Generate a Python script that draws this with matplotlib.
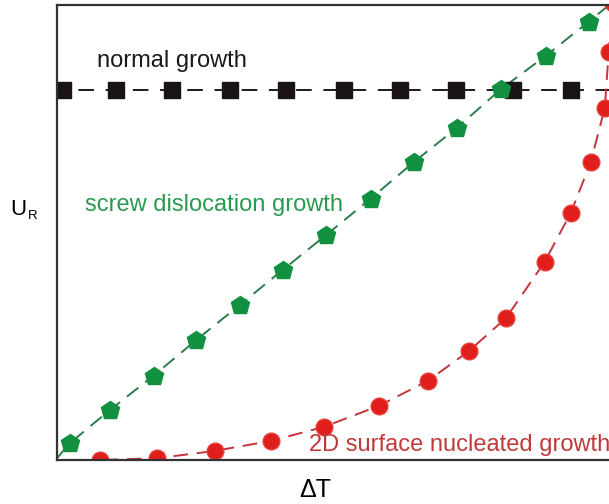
import numpy as np
import matplotlib.pyplot as plt

plt.rcParams['font.family'] = ['Liberation Sans', 'DejaVu Sans']

# normal growth (black squares)
x_normal = [1.1, 10.5, 20.7, 31.0, 41.1, 51.4, 61.4, 71.5, 81.8, 92.1]
y_normal = [81.3, 81.3, 81.3, 81.3, 81.3, 81.3, 81.3, 81.3, 81.3, 81.3]

# screw dislocation growth (green pentagons)
x_screw = [2.3, 9.5, 17.3, 25.0, 32.8, 40.5, 48.3, 56.2, 64.0, 71.7, 79.6, 87.6, 95.3]
y_screw = [3.7, 11.0, 18.5, 26.4, 34.1, 41.8, 49.5, 57.4, 65.5, 73.0, 81.5, 88.8, 96.3]

# 2D surface nucleated growth (red circles)
x_2d = [7.7, 18.0, 28.3, 38.4, 47.9, 57.7, 66.5, 73.9, 80.5, 87.4, 92.1, 95.7, 98.2, 98.9, 99.6]
y_2d = [0.0, 0.4, 2.0, 4.2, 7.3, 11.9, 17.4, 24.0, 31.2, 43.5, 54.3, 65.5, 77.4, 89.7, 100.4]

fig = plt.figure(figsize=(6.09, 5.04), dpi=100)
ax = fig.add_axes([0.0936, 0.0873, 0.916, 0.903])

# dashed lines
ax.plot([0] + x_normal + [100], [81.3] + y_normal + [81.3], color="#1a1a1a", lw=1.4,
        linestyle=(3, (8, 6)))
ax.plot([0] + x_screw + [100], [0.4] + y_screw + [101], color="#2a7d4a", lw=1.4,
        linestyle=(0, (7.5, 4.5)))
ax.plot([0] + x_2d, [0] + y_2d, color="#c4343c", lw=1.4, linestyle=(0, (7.5, 4.5)))

# markers
ax.plot(x_normal, y_normal, "s", ms=11, color="#1a1414", ls="none")
ax.plot(x_screw, y_screw, "p", ms=13.6, color="#119040", ls="none")
ax.plot(x_2d, y_2d, "o", ms=12, color="#e01e1c", mec="#e8403a", ls="none")

ax.text(7.2, 87.6, "normal growth", fontsize=17, color="#1a1a1a", va="center")
ax.text(5.0, 56.0, "screw dislocation growth", fontsize=17, color="#2a9a50", va="center")
ax.text(45.2, 3.3, "2D surface nucleated growth", fontsize=17, color="#c03a3a", va="center")

ax.set_xlim(0, 100)
ax.set_ylim(0, 100)
ax.set_xticks([])
ax.set_yticks([])
ax.spines["right"].set_visible(False)
for s in ["left", "top", "bottom"]:
    ax.spines[s].set_linewidth(1.6)
    ax.spines[s].set_color("#333333")

fig.text(10 / 609, 1 - 209 / 504, "U", fontsize=16, ha="left", va="center")
fig.text(27.5 / 609, 1 - 216 / 504, "R", fontsize=9.5, ha="left", va="center")
fig.text(315 / 609, 1 - 490 / 504, "ΔT", fontsize=18, ha="center", va="center")

fig.savefig("out.png", dpi=100)
